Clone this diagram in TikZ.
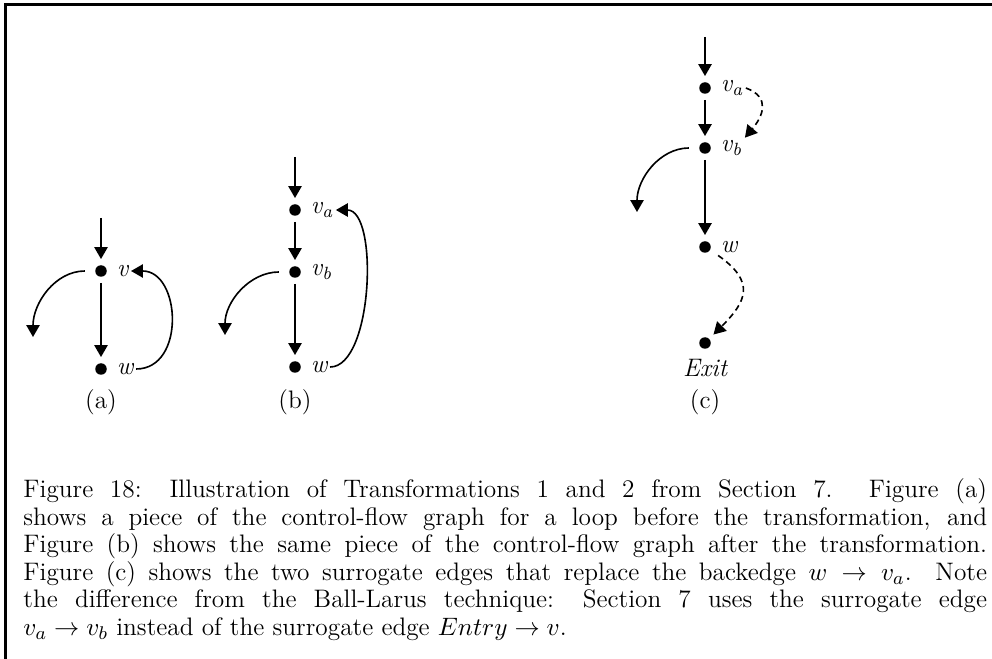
\documentclass[tikz,border=0pt]{standalone}
\usepackage{fontspec}
\usetikzlibrary{arrows.meta, positioning}

\begin{document}
\begin{tikzpicture}[x=0.4348pt, y=-0.4348pt,
    vertex/.style={circle, fill, inner sep=0pt, minimum size=5pt, outer sep=2.7pt},
    vlabel/.style={font=\itshape\fontsize{11}{13}\selectfont, inner sep=1pt},
    subfig/.style={font=\fontsize{11}{13}\selectfont},
    arrow/.style={->, >={Triangle[length=5.2pt, width=5.8pt]}, line width=0.7pt},
    surrogate/.style={arrow, dash pattern=on 2.6pt off 1.8pt},
    branch/.style={arrow, shorten <=1.8pt},
    figcaption/.style={text width=419pt, align=justify, inner sep=0pt, font=\fontsize{11}{12}\selectfont}]

    \useasboundingbox (0,0) rectangle (992,659);
    \draw[line width=0.9pt] (5.5,659) -- (5.5,4.5) -- (992,4.5);

    % (a) before the transformation
    \coordinate (a-in) at (101,218);
    \node[vertex] (a-v) at (101,271) {};
    \node[vertex] (a-w) at (101,369) {};
    \coordinate (a-out) at (33,337);
    \node[vlabel, right=0.5pt of a-v] (a-vl) {v};
    \node[vlabel, right=0.5pt of a-w] (a-wl) {w};
    \node[subfig] (a-cap) at (101,402) {(a)};

    \draw[arrow] (a-in) -- (a-v);
    \draw[arrow] (a-v) -- (a-w);
    \draw[branch] (a-v.west) to[out=180, in=90] (a-out);
    \draw[arrow] (a-wl.east) to[out=0, in=0, looseness=1.3] (a-vl.east);

    % (b) after the transformation
    \coordinate (b-in) at (295,157);
    \node[vertex] (b-va) at (295,210) {};
    \node[vertex] (b-vb) at (295,272) {};
    \node[vertex] (b-w) at (295,367) {};
    \coordinate (b-out) at (225,335);
    \node[vlabel, right=0.5pt of b-va] (b-val) {v\textsubscript{a}};
    \node[vlabel, right=0.5pt of b-vb] (b-vbl) {v\textsubscript{b}};
    \node[vlabel, right=0.5pt of b-w] (b-wl) {w};
    \node[subfig] (b-cap) at (295,402) {(b)};

    \draw[arrow] (b-in) -- (b-va);
    \draw[arrow] (b-va) -- (b-vb);
    \draw[arrow] (b-vb) -- (b-w);
    \draw[branch] (b-vb.west) to[out=180, in=90] (b-out);
    \draw[arrow] (b-wl.east) to[out=0, in=0, looseness=0.7] (b-val.east);

    % (c) surrogate edges
    \coordinate (c-in) at (705,37);
    \node[vertex] (c-va) at (705,88) {};
    \node[vertex] (c-vb) at (705,148) {};
    \node[vertex] (c-w) at (705,247) {};
    \node[vertex] (c-exit) at (705,343) {};
    \coordinate (c-out) at (637,212);
    \node[vlabel, right=0.5pt of c-va] (c-val) {v\textsubscript{a}};
    \node[vlabel, right=0.5pt of c-vb] (c-vbl) {v\textsubscript{b}};
    \node[vlabel, right=0.5pt of c-w] (c-wl) {w};
    \node[vlabel, below=0.5pt of c-exit] (c-exitl) {Exit};
    \node[subfig] (c-cap) at (705,402) {(c)};

    \draw[arrow] (c-in) -- (c-va);
    \draw[arrow] (c-va) -- (c-vb);
    \draw[arrow] (c-vb) -- (c-w);
    \draw[branch] (c-vb.west) to[out=180, in=90] (c-out);
    \draw[surrogate] (c-val.east) to[out=-20, in=50, looseness=1.4] (c-vbl.north east);
    \draw[surrogate] (c-wl.south west) to[out=-35, in=45, looseness=1.5] (c-exit.north east);

    \node[figcaption, anchor=north west] (caption) at (23,478)
      {Figure 18: Illustration of Transformations 1 and 2 from Section 7.  Figure (a)\linebreak
       shows a piece of the control-flow graph for a loop before the transformation, and\linebreak
       Figure (b) shows the same piece of the control-flow graph after the transformation.\linebreak
       Figure (c) shows the two surrogate edges that replace the backedge $w \rightarrow v_a$. Note\linebreak
       the difference from the Ball-Larus technique: Section 7 uses the surrogate edge\linebreak
       $v_a \rightarrow v_b$ instead of the surrogate edge $Entry \rightarrow v$.};
\end{tikzpicture}
\end{document}
